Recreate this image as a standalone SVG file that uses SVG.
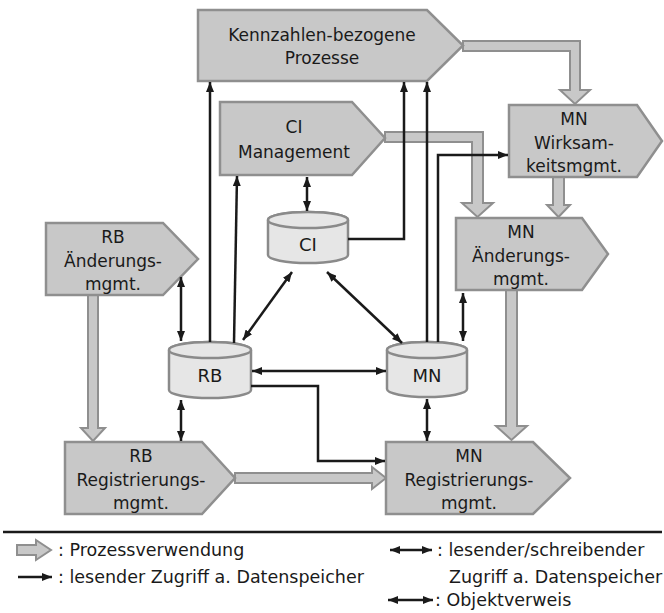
<svg xmlns="http://www.w3.org/2000/svg" width="664" height="613" viewBox="0 0 664 613">
<defs>
<marker id="ah" viewBox="0 0 10 8" refX="10" refY="4" markerWidth="10" markerHeight="8" markerUnits="userSpaceOnUse" orient="auto-start-reverse">
<path d="M0,0 L10,4 L0,8 z" fill="#1a1a1a"/>
</marker>
<style>
.node{fill:#c8c8c8;stroke:#8f8f8f;stroke-width:2.5;stroke-linejoin:miter}
.db{fill:#e6e6e6;stroke:#8a8a8a;stroke-width:2.5}
.garrow{fill:#c8c8c8;stroke:#8f8f8f;stroke-width:2}
.lbl{font-family:"DejaVu Sans","Liberation Sans",sans-serif;font-size:17px;fill:#1a1a1a;text-anchor:middle}
.dbl{font-size:18px}
.leg{font-family:"DejaVu Sans","Liberation Sans",sans-serif;font-size:17.5px;fill:#1a1a1a}
.ln{fill:none;stroke:#1a1a1a;stroke-width:2.5}
.one{marker-end:url(#ah)}
.two{marker-start:url(#ah);marker-end:url(#ah)}
</style>
</defs>

<g id="process-arrows">
<polygon class="garrow" points="463,41 580,41 580,90 590,90 575,104 560,90 570,90 570,51 463,51"/>
<polygon class="garrow" points="385,132 483,132 483,203 493,203 477.5,217 462,203 472,203 472,142 385,142"/>
<polygon class="garrow" points="553,177 564,177 564,205 570,205 558.5,217 547,205 553,205"/>
<polygon class="garrow" points="506,290 517,290 517,426 527,426 511.5,440 496,426 506,426"/>
<polygon class="garrow" points="88,295 98,295 98,428 105,428 93,441 81,428 88,428"/>
<polygon class="garrow" points="235,473 372,473 372,467 386,478 372,489 372,483 235,483"/>
</g>

<g id="kennzahlen">
<polygon class="node" points="198,10 427,10 463,45.5 427,81 198,81"/>
<text class="lbl" x="322" y="41">Kennzahlen-bezogene</text>
<text class="lbl" x="322" y="64">Prozesse</text>
</g>
<g id="ci-management">
<polygon class="node" points="220,102 352,102 385,138 352,175 220,175"/>
<text class="lbl" x="294" y="133">CI</text>
<text class="lbl" x="294" y="158">Management</text>
</g>
<g id="mn-wirksamkeit">
<polygon class="node" points="509,105 637,105 662,141 637,177 509,177"/>
<text class="lbl" x="574" y="125">MN</text>
<text class="lbl" x="574" y="149">Wirksam-</text>
<text class="lbl" x="574" y="172">keitsmgmt.</text>
</g>
<g id="mn-aenderung">
<polygon class="node" points="456,218 582,218 608,254 582,290 456,290"/>
<text class="lbl" x="521" y="238">MN</text>
<text class="lbl" x="521" y="262">Änderungs-</text>
<text class="lbl" x="521" y="285">mgmt.</text>
</g>
<g id="rb-aenderung">
<polygon class="node" points="46,223 163,223 198,259 163,295 46,295"/>
<text class="lbl" x="113" y="243">RB</text>
<text class="lbl" x="113" y="267">Änderungs-</text>
<text class="lbl" x="113" y="290">mgmt.</text>
</g>
<g id="rb-registrierung">
<polygon class="node" points="65,442 202,442 235,478 202,514 65,514"/>
<text class="lbl" x="141" y="462">RB</text>
<text class="lbl" x="141" y="486">Registrierungs-</text>
<text class="lbl" x="141" y="509">mgmt.</text>
</g>
<g id="mn-registrierung">
<polygon class="node" points="386,442 533,442 570,478 533,514 386,514"/>
<text class="lbl" x="469" y="462">MN</text>
<text class="lbl" x="469" y="486">Registrierungs-</text>
<text class="lbl" x="469" y="509">mgmt.</text>
</g>

<g id="db-ci">
<path class="db" d="M268,220 A40,8 0 0 1 348,220 V255 A40,8 0 0 1 268,255 Z"/>
<ellipse class="db" cx="308" cy="220" rx="40" ry="8"/>
<text class="lbl dbl" x="308" y="251">CI</text>
</g>
<g id="db-rb">
<path class="db" d="M169,350 A41,8 0 0 1 251,350 V390 A41,8 0 0 1 169,390 Z"/>
<ellipse class="db" cx="210" cy="350" rx="41" ry="8"/>
<text class="lbl dbl" x="210" y="382">RB</text>
</g>
<g id="db-mn">
<path class="db" d="M387,350 A40,8 0 0 1 467,350 V389 A40,8 0 0 1 387,389 Z"/>
<ellipse class="db" cx="427" cy="350" rx="40" ry="8"/>
<text class="lbl dbl" x="427" y="382">MN</text>
</g>

<g id="connectors">
<line class="ln one" x1="210" y1="342" x2="210" y2="82"/>
<line class="ln one" x1="234" y1="343" x2="237" y2="176"/>
<polyline class="ln one" points="348,239 404,239 404,82"/>
<line class="ln one" x1="427" y1="342" x2="427" y2="82"/>
<polyline class="ln one" points="438,342 438,155 508,155"/>
<polyline class="ln one" points="251,386 318,386 318,461 385,461"/>
<line class="ln two" x1="307" y1="177" x2="307" y2="211"/>
<line class="ln two" x1="181" y1="277" x2="181" y2="341"/>
<line class="ln two" x1="181" y1="400" x2="181" y2="441"/>
<line class="ln two" x1="427" y1="399" x2="427" y2="441"/>
<line class="ln two" x1="463" y1="293" x2="463" y2="341"/>
<line class="ln two" x1="292" y1="272" x2="243" y2="340"/>
<line class="ln two" x1="327" y1="272" x2="402" y2="343"/>
<line class="ln two" x1="252" y1="371" x2="386" y2="371"/>
</g>

<g id="legend">
<line x1="3" y1="532" x2="662" y2="532" stroke="#1a1a1a" stroke-width="2.5"/>
<polygon class="garrow" points="17,545 36,545 36,540 51,550 36,560 36,555 17,555"/>
<text class="leg" x="58" y="556">: Prozessverwendung</text>
<line class="ln one" x1="18" y1="577" x2="52" y2="577"/>
<text class="leg" x="58" y="583">: lesender Zugriff a. Datenspeicher</text>
<line class="ln two" x1="390" y1="550" x2="432" y2="550"/>
<text class="leg" x="437" y="556">: lesender/schreibender</text>
<text class="leg" x="449" y="583">Zugriff a. Datenspeicher</text>
<line class="ln two" x1="388" y1="600" x2="433" y2="600"/>
<text class="leg" x="435" y="606">: Objektverweis</text>
</g>
</svg>
